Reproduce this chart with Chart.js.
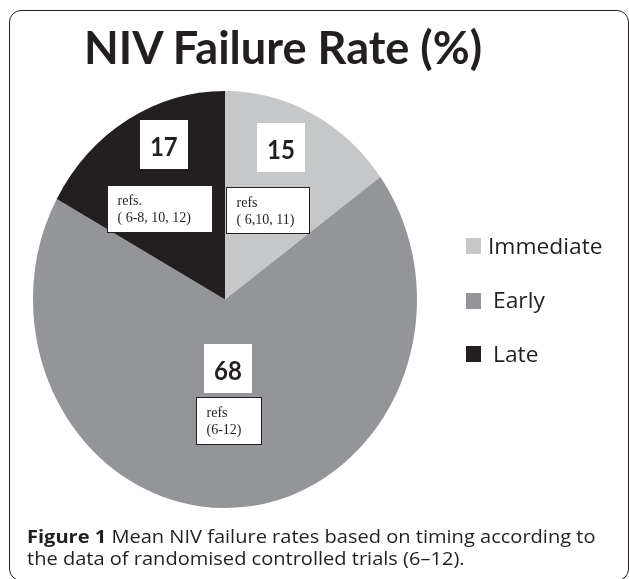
<!DOCTYPE html>
<html>
<head>
<meta charset="utf-8">
<script src="https://cdn.jsdelivr.net/npm/chart.js@4.4.1/dist/chart.umd.min.js"></script>
<style>
html,body{margin:0;padding:0;background:#fff;width:629px;height:579px;overflow:hidden;}
#wrap{position:relative;width:629px;height:579px;}
#frame{position:absolute;left:9px;top:10px;width:620px;height:571px;border:1.5px solid #231f20;border-radius:12px;box-sizing:border-box;}
canvas{position:absolute;left:0;top:0;}
.fit{position:absolute;left:0;top:0;white-space:nowrap;transform-origin:0 0;color:#231f20;line-height:normal;}
#title{font-family:Lato,sans-serif;font-weight:700;font-size:45px;}
.cap{font-family:"Open Sans",sans-serif;font-weight:500;font-size:17.5px;}
.cap b{font-weight:700;}
.leg{font-family:"Open Sans",sans-serif;font-weight:400;font-size:21px;}
.sw{position:absolute;}
</style>
</head>
<body>
<div id="wrap">
  <div id="frame"></div>
  <canvas id="c" width="629" height="579"></canvas>
  <div id="title" class="fit">NIV Failure Rate (%)</div>
  <div id="cap1" class="fit cap"><b>Figure 1</b> Mean NIV failure rates based on timing according to</div>
  <div id="cap2" class="fit cap">the data of randomised controlled trials (6–12).</div>
</div>
<script>
// ---- data ----
const categories = ['Immediate', 'Early', 'Late'];
const failureRates = [15, 68, 17];
const refLines1 = ['refs', 'refs', 'refs.'];
const refLines2 = ['( 6,10, 11)', '(6-12)', '( 6-8, 10, 12)'];

// ---- styles / layout ----
const sliceColors = ['#c6c7c9', '#939598', '#231f20'];
const ink = '#231f20';
const SY = 208.5 / 192;               // vertical stretch of the pie
const labelFrac = [0.405, 0.504, 0.62]; // position along slice angle
const labelRad = [0.783, 0.332, 0.807]; // fraction of radius
const refBox = [ // left, top offsets from number-box centre, width, height
  {dx: -55, dy: 39, w: 83, h: 46},
  {dx: -32, dy: 28.5, w: 65, h: 47},
  {dx: -56.5, dy: 40.5, w: 105, h: 47}
];
const legendSwatchY = [238, 293, 346];
const legendTextX = [488, 493, 493];
const legendBaseY = [254, 308, 362];

const ellipsePlugin = {
  id: 'ellipse',
  beforeDatasetsDraw(chart) {
    const a = chart.getDatasetMeta(0).data[0];
    const ctx = chart.ctx;
    ctx.save();
    ctx.translate(a.x, a.y);
    ctx.scale(1, SY);
    ctx.translate(-a.x, -a.y);
  },
  afterDatasetsDraw(chart) {
    const ctx = chart.ctx;
    ctx.restore();
    const meta = chart.getDatasetMeta(0);
    meta.data.forEach((arc, i) => {
      const p = arc.getProps(['x', 'y', 'startAngle', 'endAngle', 'outerRadius'], true);
      const ang = p.startAngle + labelFrac[i] * (p.endAngle - p.startAngle);
      const cx = p.x + Math.cos(ang) * labelRad[i] * p.outerRadius;
      const cy = p.y + Math.sin(ang) * labelRad[i] * p.outerRadius * SY;
      ctx.save();
      ctx.fillStyle = '#ffffff';
      ctx.fillRect(Math.round(cx - 24), Math.round(cy - 24.5), 48, 49);
      ctx.fillStyle = ink;
      ctx.font = '700 24px Lato';
      ctx.textAlign = 'center';
      ctx.textBaseline = 'alphabetic';
      ctx.translate(cx, cy + 11);
      ctx.scale(1, 1.12);
      ctx.fillText(String(chart.data.datasets[0].data[i]), 0, 0);
      ctx.restore();

      const b = refBox[i];
      const bx = Math.round(cx + b.dx) + 0.5, by = Math.round(cy + b.dy) + 0.5;
      ctx.save();
      ctx.fillStyle = '#ffffff';
      ctx.fillRect(bx, by, b.w, b.h);
      ctx.strokeStyle = ink;
      ctx.lineWidth = 1;
      ctx.strokeRect(bx, by, b.w, b.h);
      ctx.fillStyle = ink;
      ctx.font = '14px "Liberation Serif"';
      ctx.textAlign = 'left';
      ctx.fillText(refLines1[i], bx + 10, by + 19);
      ctx.fillText(refLines2[i], bx + 10, by + 36);
      ctx.restore();
    });
  }
};

function baselineOf(el) {
  const probe = document.createElement('span');
  probe.style.display = 'inline-block';
  probe.style.width = '0';
  probe.style.height = '0';
  probe.style.verticalAlign = 'baseline';
  el.appendChild(probe);
  const b = probe.offsetTop;
  el.removeChild(probe);
  return b;
}
function place(el, x, baseY, width, scale) {
  const w = el.offsetWidth;
  const s = scale || (width ? width / w : 1);
  const b = baselineOf(el);
  el.style.left = x + 'px';
  el.style.top = (baseY - b) + 'px';
  el.style.transform = 'scaleX(' + s + ')';
  return s;
}

function build() {
  new Chart(document.getElementById('c'), {
    type: 'pie',
    data: {
      labels: categories,
      datasets: [{
        data: failureRates,
        backgroundColor: sliceColors,
        borderWidth: 0,
        hoverOffset: 0,
        offset: 0,
        clip: false
      }]
    },
    options: {
      responsive: false,
      animation: false,
      events: [],
      layout: {padding: {left: 33, right: 212, top: 107.5, bottom: 87.5}},
      plugins: {legend: {display: false}, tooltip: {enabled: false}, title: {display: false}}
    },
    plugins: [ellipsePlugin]
  });

  place(document.getElementById('title'), 84, 64, 398);
  const s = place(document.getElementById('cap1'), 27, 542.5, 568);
  place(document.getElementById('cap2'), 27, 565, null, s);

  // legend
  const wrap = document.getElementById('wrap');
  let legScale = null;
  categories.forEach((name, i) => {
    const sw = document.createElement('div');
    sw.className = 'sw';
    sw.style.left = '466px';
    sw.style.top = legendSwatchY[i] + 'px';
    sw.style.width = '15px';
    sw.style.height = '16px';
    sw.style.background = sliceColors[i];
    wrap.appendChild(sw);
    const t = document.createElement('div');
    t.className = 'fit leg';
    t.textContent = name;
    wrap.appendChild(t);
    if (i === 0) legScale = place(t, legendTextX[i], legendBaseY[i], 115);
    else place(t, legendTextX[i], legendBaseY[i], null, legScale);
  });
}
if (document.fonts && document.fonts.load) {
  Promise.all([
    document.fonts.load('700 45px Lato'),
    document.fonts.load('700 24px Lato'),
    document.fonts.load('500 17px "Open Sans"'),
    document.fonts.load('700 17px "Open Sans"'),
    document.fonts.load('14px "Liberation Serif"')
  ]).then(build, build);
} else build();
</script>
</body>
</html>
